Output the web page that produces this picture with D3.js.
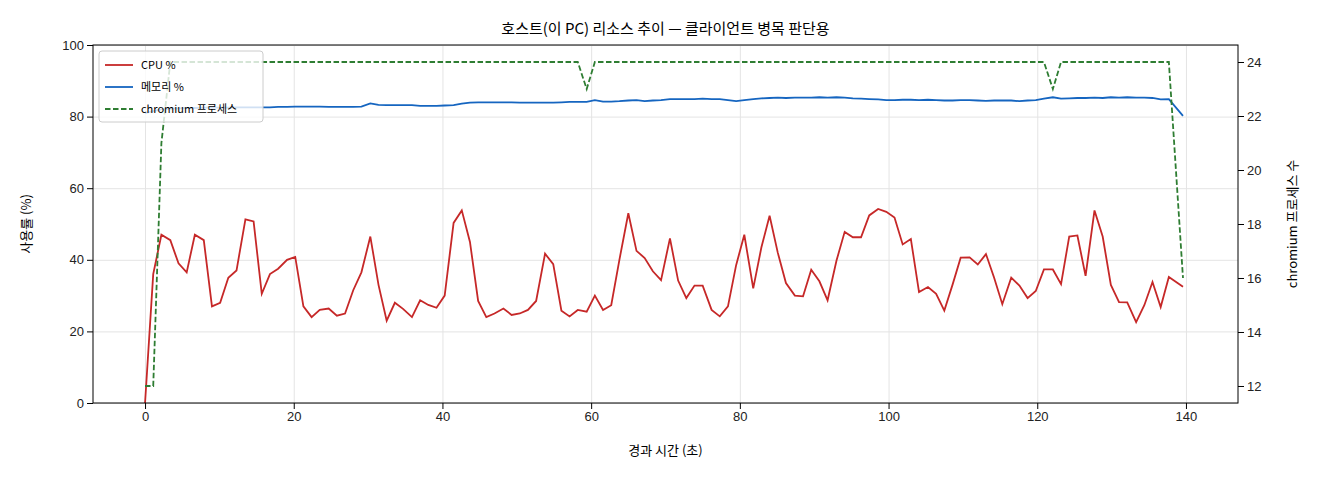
<!DOCTYPE html>
<html><head><meta charset="utf-8">
<script src="https://cdn.jsdelivr.net/npm/d3@7"></script>
<style>
body{margin:0;background:#fff;font-family:"Noto Sans CJK KR","DejaVu Sans",sans-serif;}
.tick text{font-size:13px;fill:#222;}
.grid line{stroke:#e4e4e4;}
.grid path{display:none;}
</style></head><body>
<svg id="c" width="1320" height="480"></svg>
<script>
// elapsed seconds of each sample
const times = [0,1.1,2.2,3.4,4.5,5.6,6.7,7.9,9,10.1,11.2,12.3,13.5,14.6,15.7,16.8,17.9,19.1,20.2,21.3,22.4,23.5,24.7,25.8,26.9,28,29.1,30.3,31.4,32.5,33.6,34.7,35.9,37,38.1,39.2,40.3,41.5,42.6,43.7,44.8,45.9,47,48.2,49.3,50.4,51.5,52.6,53.8,54.9,56,57.1,58.2,59.4,60.5,61.6,62.7,63.8,65,66.1,67.2,68.3,69.4,70.6,71.7,72.8,73.9,75,76.2,77.3,78.4,79.5,80.6,81.8,82.9,84,85.1,86.2,87.4,88.5,89.6,90.7,91.8,93,94.1,95.2,96.3,97.4,98.6,99.7,100.8,101.9,103,104.1,105.3,106.4,107.5,108.6,109.7,110.9,112,113.1,114.2,115.3,116.5,117.6,118.7,119.8,120.9,122.1,123.2,124.3,125.4,126.5,127.7,128.8,129.9,131,132.1,133.3,134.4,135.5,136.6,137.7,139.6];
const cpu = [0,36,47,45.5,39,36.5,47,45.5,27,28,35,37,51.3,50.7,30.5,36,37.5,40,40.8,27,24,26,26.4,24.4,25,31.5,36.5,46.5,33,23,28,26.3,24,28.7,27.4,26.6,30,50.3,53.8,45,28.5,24,25,26.4,24.6,25,26,28.5,41.7,38.8,25.8,24.2,26,25.5,30,26,27.3,40,53,42.5,40.5,36.8,34.3,46,34.2,29.3,32.8,32.8,26,24.2,27,38.5,47,32,43.5,52.3,42,33.5,30,29.8,37.2,34,28.7,39.8,47.8,46.3,46.3,52.4,54.2,53.4,51.8,44.3,45.8,31,32.4,30.5,25.8,33,40.6,40.7,38.7,41.6,35,27.6,35,32.8,29.3,31.3,37.3,37.3,33.2,46.5,46.8,35.5,53.8,46.5,33,28.2,28.1,22.6,27.3,33.8,26.8,35.2,32.5];
const mem = [
  81,81.5,82,82.2,82.3,82.4,82.4,82.5,82.5,82.5,
  82.5,82.6,82.6,82.6,82.6,82.6,82.7,82.7,82.8,82.8,
  82.8,82.8,82.7,82.7,82.7,82.7,82.8,83.7,83.3,83.2,
  83.2,83.2,83.2,83,83,83,83.1,83.2,83.6,83.9,
  84,84,84,84,84,83.9,83.9,83.9,83.9,83.9,
  84,84.1,84.1,84.1,84.6,84.2,84.2,84.3,84.5,84.6,
  84.3,84.5,84.6,84.9,84.9,84.9,84.9,85,84.9,84.9,
  84.6,84.3,84.6,84.9,85.1,85.2,85.3,85.2,85.3,85.3,
  85.3,85.4,85.3,85.4,85.3,85.1,85,84.9,84.8,84.6,
  84.6,84.7,84.7,84.6,84.7,84.6,84.5,84.5,84.6,84.6,
  84.5,84.4,84.5,84.5,84.5,84.3,84.5,84.6,85,85.4,
  85,85.1,85.2,85.2,85.3,85.2,85.4,85.3,85.4,85.3,
  85.3,85.2,84.8,84.9,80.2];
const procs = [
  12,12,21,24,24,24,24,24,24,24,
  24,24,24,24,24,24,24,24,24,24,
  24,24,24,24,24,24,24,24,24,24,
  24,24,24,24,24,24,24,24,24,24,
  24,24,24,24,24,24,24,24,24,24,
  24,24,24,23,24,24,24,24,24,24,
  24,24,24,24,24,24,24,24,24,24,
  24,24,24,24,24,24,24,24,24,24,
  24,24,24,24,24,24,24,24,24,24,
  24,24,24,24,24,24,24,24,24,24,
  24,24,24,24,24,24,24,24,24,23,
  24,24,24,24,24,24,24,24,24,24,
  24,24,24,24,16];
const xTicks = [0,20,40,60,80,100,120,140];
const yTicks = [0,20,40,60,80,100];
const y2Ticks = [12,14,16,18,20,22,24];

const svg = d3.select("#c");
const L = 93, R = 1238, T = 45, B = 403;
const x = d3.scaleLinear().domain([-7, 147]).range([L, R]);
const y = d3.scaleLinear().domain([0, 100]).range([B, T]);
const y2 = d3.scaleLinear().domain([11.37, 24.63]).range([B, T]);

svg.append("g").attr("class","grid").attr("transform",`translate(0,${B})`)
  .call(d3.axisBottom(x).tickValues(xTicks).tickSize(-(B-T)).tickFormat(""));
svg.append("g").attr("class","grid").attr("transform",`translate(${L},0)`)
  .call(d3.axisLeft(y).tickValues(yTicks).tickSize(-(R-L)).tickFormat(""));

const line = (yy) => d3.line().x((d,i) => x(times[i])).y(d => yy(d));
svg.append("path").datum(cpu).attr("d", line(y)).attr("fill","none").attr("stroke","#c62828").attr("stroke-width",1.8);
svg.append("path").datum(mem).attr("d", line(y)).attr("fill","none").attr("stroke","#1565c0").attr("stroke-width",1.8);
svg.append("path").datum(procs).attr("d", line(y2)).attr("fill","none").attr("stroke","#2e7d32").attr("stroke-width",1.8).attr("stroke-dasharray","5.5,2.5");

svg.append("rect").attr("x",L).attr("y",T).attr("width",R-L).attr("height",B-T).attr("fill","none").attr("stroke","#000").attr("stroke-width",1);

const ax = svg.append("g").attr("transform",`translate(0,${B})`).call(d3.axisBottom(x).tickValues(xTicks).tickSizeOuter(0));
const ay = svg.append("g").attr("transform",`translate(${L},0)`).call(d3.axisLeft(y).tickValues(yTicks).tickSizeOuter(0));
const ay2 = svg.append("g").attr("transform",`translate(${R},0)`).call(d3.axisRight(y2).tickValues(y2Ticks).tickSizeOuter(0));
[ax, ay, ay2].forEach(a => { a.select(".domain").remove(); a.selectAll(".tick line").attr("stroke","#000"); });

svg.append("text").attr("x",(L+R)/2).attr("y",34).attr("text-anchor","middle").attr("font-size",15).text("호스트(이 PC) 리소스 추이 — 클라이언트 병목 판단용");
svg.append("text").attr("x",(L+R)/2).attr("y",455).attr("text-anchor","middle").attr("font-size",13).text("경과 시간 (초)");
svg.append("text").attr("transform",`translate(31,${(T+B)/2}) rotate(-90)`).attr("text-anchor","middle").attr("font-size",13).text("사용률 (%)");
svg.append("text").attr("transform",`translate(1297,${(T+B)/2}) rotate(-90)`).attr("text-anchor","middle").attr("font-size",13).text("chromium 프로세스 수");

const legend = [["CPU %","#c62828",null],["메모리 %","#1565c0",null],["chromium 프로세스","#2e7d32","5.5,2.5"]];
const lg = svg.append("g");
lg.append("rect").attr("x",99).attr("y",51).attr("width",164).attr("height",71).attr("rx",3).attr("fill","#fff").attr("fill-opacity",0.8).attr("stroke","#ccc");
legend.forEach((d,i) => {
  const yy = 65 + i*22;
  lg.append("line").attr("x1",105).attr("x2",133).attr("y1",yy).attr("y2",yy).attr("stroke",d[1]).attr("stroke-width",1.8).attr("stroke-dasharray",d[2]);
  lg.append("text").attr("x",141).attr("y",yy+4).attr("font-size",11).text(d[0]);
});
</script>
</body></html>
